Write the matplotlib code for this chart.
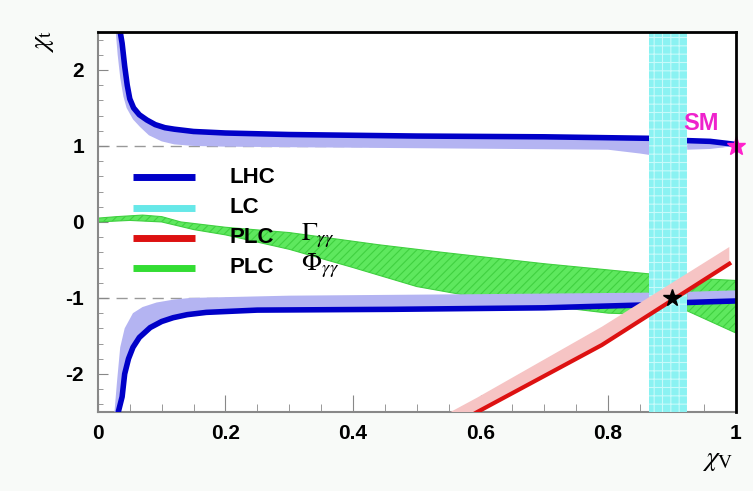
import numpy as np
import matplotlib
matplotlib.use("Agg")
import matplotlib.pyplot as plt
from matplotlib.ticker import MultipleLocator

plt.rcParams["font.family"] = ["Liberation Sans", "DejaVu Sans"]
plt.rcParams["mathtext.fontset"] = "stix"
plt.rcParams["hatch.linewidth"] = 0.8

# LHC band, upper branch (dark edge and light edge)
lhc_up_dark_x = [0.035, 0.038, 0.042, 0.046, 0.05, 0.056, 0.065, 0.077, 0.09, 0.105,
                 0.12, 0.15, 0.2, 0.3, 0.5, 0.7, 0.866]
lhc_up_dark_y = [2.5, 2.35, 2.05, 1.8, 1.62, 1.5, 1.41, 1.34, 1.28, 1.24,
                 1.22, 1.19, 1.17, 1.15, 1.13, 1.12, 1.10]
lhc_up_light_x = [0.028, 0.031, 0.035, 0.04, 0.045, 0.055, 0.066, 0.08, 0.1, 0.12,
                  0.15, 0.2, 0.5, 0.8, 0.85, 0.866]
lhc_up_light_y = [2.5, 2.2, 1.9, 1.65, 1.5, 1.35, 1.25, 1.14, 1.06, 1.02,
                  1.0, 0.99, 0.97, 0.95, 0.9, 0.88]
lhc_up_r_x = [0.924, 0.96, 1.0]
lhc_up_r_dark = [1.07, 1.06, 1.02]
lhc_up_r_light = [0.95, 0.96, 1.0]

# LHC band, lower branch
lhc_lo_dark_x = [0.032, 0.038, 0.042, 0.048, 0.055, 0.065, 0.082, 0.1, 0.118, 0.14,
                 0.17, 0.25, 0.46, 0.7, 0.866]
lhc_lo_dark_y = [-2.5, -2.3, -2.0, -1.8, -1.65, -1.52, -1.39, -1.31, -1.26, -1.22,
                 -1.19, -1.16, -1.15, -1.13, -1.09]
lhc_lo_light_x = [0.026, 0.03, 0.035, 0.042, 0.055, 0.07, 0.092, 0.12, 0.145, 0.3,
                  0.6, 0.866]
lhc_lo_light_y = [-2.5, -2.1, -1.65, -1.4, -1.2, -1.12, -1.06, -1.02, -1.0, -0.97,
                  -0.95, -0.93]
lhc_lo_r_x = [0.924, 0.96, 1.0]
lhc_lo_r_dark = [-1.06, -1.05, -1.04]
lhc_lo_r_light = [-0.92, -0.91, -0.9]

# LC band (x range)
lc_x = [0.864, 0.924]

# PLC Gamma_gg band
plc_g_x = [0.553, 0.595, 0.79, 0.99]
plc_g_top = [-2.5, -2.31, -1.38, -0.33]
plc_g_bot = [-2.7, -2.5, -1.62, -0.55]

# PLC Phi_gg band
plc_p_top_x = [0.0, 0.03, 0.07, 0.1, 0.13, 0.2, 0.3, 0.44, 0.54, 0.7, 0.86, 0.93, 1.0]
plc_p_top_y = [0.05, 0.07, 0.09, 0.07, 0.0, -0.07, -0.14, -0.30, -0.40, -0.55, -0.68, -0.74, -0.77]
plc_p_bot_x = [0.0, 0.05, 0.1, 0.15, 0.2, 0.3, 0.4, 0.5, 0.6, 0.7, 0.8, 0.866, 0.924, 1.0]
plc_p_bot_y = [0.0, 0.02, 0.0, -0.1, -0.17, -0.36, -0.6, -0.85, -1.0, -1.1, -1.2, -1.22, -1.17, -1.46]

sm_point = (1.0, 1.0)
best_point = (0.9, -1.0)

legend_labels = ["LHC", "LC", "PLC", "PLC"]
legend_extra = ["", "", r"$\Gamma_{\gamma\gamma}$", r"$\Phi_{\gamma\gamma}$"]
legend_colors = ["#0000c8", "#66e8e8", "#dd1111", "#33dd33"]


def band(ax, xa, ya, xb, yb, **kw):
    ax.fill(np.r_[xa, xb[::-1]], np.r_[ya, yb[::-1]], **kw)


fig = plt.figure(figsize=(7.53, 4.91), dpi=100)
fig.patch.set_facecolor("#f8faf8")
ax = fig.add_axes([0.130, 0.161, 0.847, 0.774])
ax.set_facecolor("white")

# dashed reference lines
for yv in (1, -1):
    ax.axhline(yv, color="#999999", lw=1, ls=(0, (8, 5)), zorder=1)

# PLC Phi
band(ax, plc_p_top_x, plc_p_top_y, plc_p_bot_x, plc_p_bot_y,
     facecolor="#5ee85e", edgecolor="#40d040", lw=0.8, hatch="////", zorder=2)

# LHC upper
band(ax, lhc_up_dark_x, lhc_up_dark_y, lhc_up_light_x, lhc_up_light_y,
     facecolor="#b4b4f2", edgecolor="none", zorder=3)
ax.plot(lhc_up_dark_x, lhc_up_dark_y, color="#0000c8", lw=4, zorder=3)
band(ax, lhc_up_r_x, lhc_up_r_dark, lhc_up_r_x, lhc_up_r_light,
     facecolor="#b4b4f2", edgecolor="none", zorder=3)
ax.plot(lhc_up_r_x, lhc_up_r_dark, color="#0000c8", lw=4, zorder=3)

# LHC lower
band(ax, lhc_lo_dark_x, lhc_lo_dark_y, lhc_lo_light_x, lhc_lo_light_y,
     facecolor="#b4b4f2", edgecolor="none", zorder=3)
ax.plot(lhc_lo_dark_x, lhc_lo_dark_y, color="#0000c8", lw=4, zorder=3)
band(ax, lhc_lo_r_x, lhc_lo_r_dark, lhc_lo_r_x, lhc_lo_r_light,
     facecolor="#b4b4f2", edgecolor="none", zorder=3)
ax.plot(lhc_lo_r_x, lhc_lo_r_dark, color="#0000c8", lw=4, zorder=3)

# LC
ax.axvspan(lc_x[0], lc_x[1], facecolor="#8af2f2", edgecolor="#c8fafa",
           hatch="++", lw=0, zorder=4)

# PLC Gamma
band(ax, plc_g_x, plc_g_top, plc_g_x, plc_g_bot,
     facecolor="#f6c4c4", edgecolor="none", zorder=5)
ax.plot(plc_g_x, plc_g_bot, color="#dd1111", lw=3, zorder=5)

ax.plot(*best_point, marker="*", color="black", ms=13, zorder=6)
ax.plot(*sm_point, marker="*", color="#ff22cc", ms=14, zorder=6, clip_on=False)
ax.text(0.945, 1.3, "SM", color="#ee22cc", fontsize=17, fontweight="bold",
        ha="center", va="center", zorder=7)

# legend
leg_y = [0.618, 0.537, 0.458, 0.379]
for lab, ext, col, yy in zip(legend_labels, legend_extra, legend_colors, leg_y):
    ax.plot([0.055, 0.152], [yy, yy], color=col, lw=5, transform=ax.transAxes,
            solid_capstyle="butt", zorder=8)
    ax.text(0.207, yy, lab, transform=ax.transAxes, fontsize=16,
            fontweight="bold", va="center", ha="left", zorder=8)
    if ext:
        ax.text(0.318, yy + 0.005, ext, transform=ax.transAxes, fontsize=19,
                va="center", ha="left", zorder=8)

ax.set_xlim(0, 1)
ax.set_ylim(-2.5, 2.5)
ax.xaxis.set_minor_locator(MultipleLocator(0.05))
ax.yaxis.set_minor_locator(MultipleLocator(0.2))
ax.set_xticks([0, 0.2, 0.4, 0.6, 0.8, 1.0])
ax.set_xticklabels(["0", "0.2", "0.4", "0.6", "0.8", "1"])
ax.set_yticks([-2, -1, 0, 1, 2])
ax.set_yticklabels(["-2", "-1", "0", "1", "2"])
ax.tick_params(axis="x", which="major", direction="in", length=12, color="#888888",
               labelsize=15, pad=9)
ax.tick_params(axis="x", which="minor", direction="in", length=6, color="#888888")
ax.tick_params(axis="y", which="major", direction="in", length=7, color="#888888",
               labelsize=15, pad=10)
ax.tick_params(axis="y", which="minor", direction="in", length=3.5, color="#888888")
for lab in ax.get_xticklabels() + ax.get_yticklabels():
    lab.set_fontweight("bold")

for side in ("left", "bottom"):
    ax.spines[side].set_color("#888888")
    ax.spines[side].set_linewidth(1.5)
for side in ("top", "right"):
    ax.spines[side].set_color("black")
    ax.spines[side].set_linewidth(2)
    ax.spines[side].set_zorder(9)

fig.text(0.057, 0.915, r"$\chi_{\rm t}$", fontsize=20, rotation=90,
         ha="center", va="center")
fig.text(0.953, 0.063, r"$\chi_{\rm V}$", fontsize=20, ha="center", va="center")

fig.savefig("out.png", dpi=100, facecolor=fig.get_facecolor())
